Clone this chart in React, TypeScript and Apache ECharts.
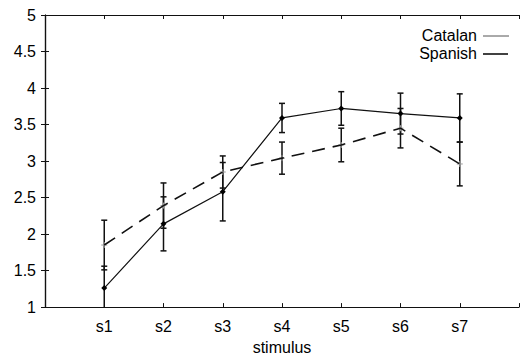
import React, { useEffect, useRef } from "react";
import * as echarts from "echarts";

const categories = ["s1", "s2", "s3", "s4", "s5", "s6", "s7"];
const catalanMean = [1.26, 2.14, 2.58, 3.59, 3.72, 3.65, 3.59];
const catalanErr = [0.3, 0.37, 0.4, 0.2, 0.23, 0.28, 0.33];
const spanishMean = [1.85, 2.39, 2.85, 3.04, 3.22, 3.45, 2.96];
const spanishErr = [0.34, 0.31, 0.22, 0.22, 0.23, 0.27, 0.3];
const seriesNames = ["Catalan", "Spanish"];

const FONT = "Liberation Sans, Arial, Helvetica, sans-serif";

function errorRender(withPlus: boolean) {
  return (params: any, api: any) => {
    const x = api.value(0);
    const m = api.value(1);
    const e = api.value(2);
    const top = api.coord([x, m + e]);
    const bot = api.coord([x, m - e]);
    const mid = api.coord([x, m]);
    const cw = 3;
    const st = { stroke: "#111", lineWidth: 1.5 };
    const children: any[] = [
      { type: "line", shape: { x1: top[0], y1: top[1], x2: bot[0], y2: bot[1] }, style: st },
      { type: "line", shape: { x1: top[0] - cw, y1: top[1], x2: top[0] + cw, y2: top[1] }, style: st },
      { type: "line", shape: { x1: bot[0] - cw, y1: bot[1], x2: bot[0] + cw, y2: bot[1] }, style: st },
    ];
    if (withPlus) {
      const ps = { stroke: "#999", lineWidth: 1 };
      children.push(
        { type: "line", shape: { x1: mid[0] - 3, y1: mid[1], x2: mid[0] + 3, y2: mid[1] }, style: ps },
        { type: "line", shape: { x1: mid[0], y1: mid[1] - 3, x2: mid[0], y2: mid[1] + 3 }, style: ps }
      );
    }
    return { type: "group", children };
  };
}

export default function App() {
  const ref = useRef<HTMLDivElement>(null);
  useEffect(() => {
    document.body.style.margin = "0";
    const chart = echarts.init(ref.current!, null, { renderer: "svg" });
    const catLine = categories.map((_, i) => [i + 1, catalanMean[i]]);
    const spLine = categories.map((_, i) => [i + 1, spanishMean[i]]);
    const catErr = categories.map((_, i) => [i + 1, catalanMean[i], catalanErr[i]]);
    const spErr = categories.map((_, i) => [i + 1, spanishMean[i], spanishErr[i]]);
    const tick = { show: true, inside: true, length: 4, lineStyle: { color: "#111", width: 1 } };
    const axisLine = { show: true, lineStyle: { color: "#111", width: 1.2 } };
    chart.setOption({
      animation: false,
      backgroundColor: "#fff",
      textStyle: { fontFamily: FONT },
      grid: { left: 45, right: 1, top: 15, bottom: 47, containLabel: false },
      xAxis: [
        {
          type: "value",
          min: 0,
          max: 8,
          interval: 1,
          position: "bottom",
          axisLine,
          axisTick: tick,
          splitLine: { show: false },
          axisLabel: {
            color: "#000",
            fontSize: 16,
            fontFamily: FONT,
            margin: 11,
            formatter: (v: number) => (v >= 1 && v <= categories.length ? categories[v - 1] : ""),
          },
          name: "stimulus",
          nameLocation: "middle",
          nameGap: 24,
          nameTextStyle: { color: "#000", fontSize: 16, fontFamily: FONT },
        },
        {
          type: "value",
          min: 0,
          max: 8,
          interval: 1,
          position: "top",
          axisLine,
          axisTick: tick,
          axisLabel: { show: false },
          splitLine: { show: false },
        },
      ],
      yAxis: [
        {
          type: "value",
          min: 1,
          max: 5,
          interval: 0.5,
          position: "left",
          axisLine,
          axisTick: tick,
          splitLine: { show: false },
          axisLabel: { color: "#000", fontSize: 16, fontFamily: FONT, margin: 9 },
        },
        {
          type: "value",
          min: 1,
          max: 5,
          interval: 0.5,
          position: "right",
          axisLine,
          axisTick: tick,
          axisLabel: { show: false },
          splitLine: { show: false },
        },
      ],
      series: [
        {
          name: seriesNames[0] + " error",
          type: "custom",
          clip: true,
          renderItem: errorRender(false),
          data: catErr,
          z: 2,
        },
        {
          name: seriesNames[1] + " error",
          type: "custom",
          clip: true,
          renderItem: errorRender(true),
          data: spErr,
          z: 2,
        },
        {
          name: seriesNames[0],
          type: "line",
          data: catLine,
          symbol: "diamond",
          symbolSize: 6,
          itemStyle: { color: "#000" },
          lineStyle: { color: "#111", width: 1.2, type: "solid" },
          z: 3,
        },
        {
          name: seriesNames[1],
          type: "line",
          data: spLine,
          showSymbol: false,
          symbol: "none",
          lineStyle: { color: "#111", width: 1.6, type: [13, 8] },
          z: 3,
        },
      ],
      graphic: [
        {
          type: "text",
          x: 477,
          y: 35,
          style: { text: seriesNames[0], fill: "#000", font: `16px ${FONT}`, textAlign: "right", textVerticalAlign: "middle" },
        },
        {
          type: "line",
          shape: { x1: 483, y1: 36, x2: 509, y2: 36 },
          style: { stroke: "#555", lineWidth: 1 },
        },
        {
          type: "text",
          x: 477,
          y: 53,
          style: { text: seriesNames[1], fill: "#000", font: `16px ${FONT}`, textAlign: "right", textVerticalAlign: "middle" },
        },
        {
          type: "line",
          shape: { x1: 483, y1: 54, x2: 508, y2: 54 },
          style: { stroke: "#111", lineWidth: 1.6 },
        },
      ],
    });
    return () => chart.dispose();
  }, []);
  return <div ref={ref} style={{ width: 522, height: 360 }} />;
}
